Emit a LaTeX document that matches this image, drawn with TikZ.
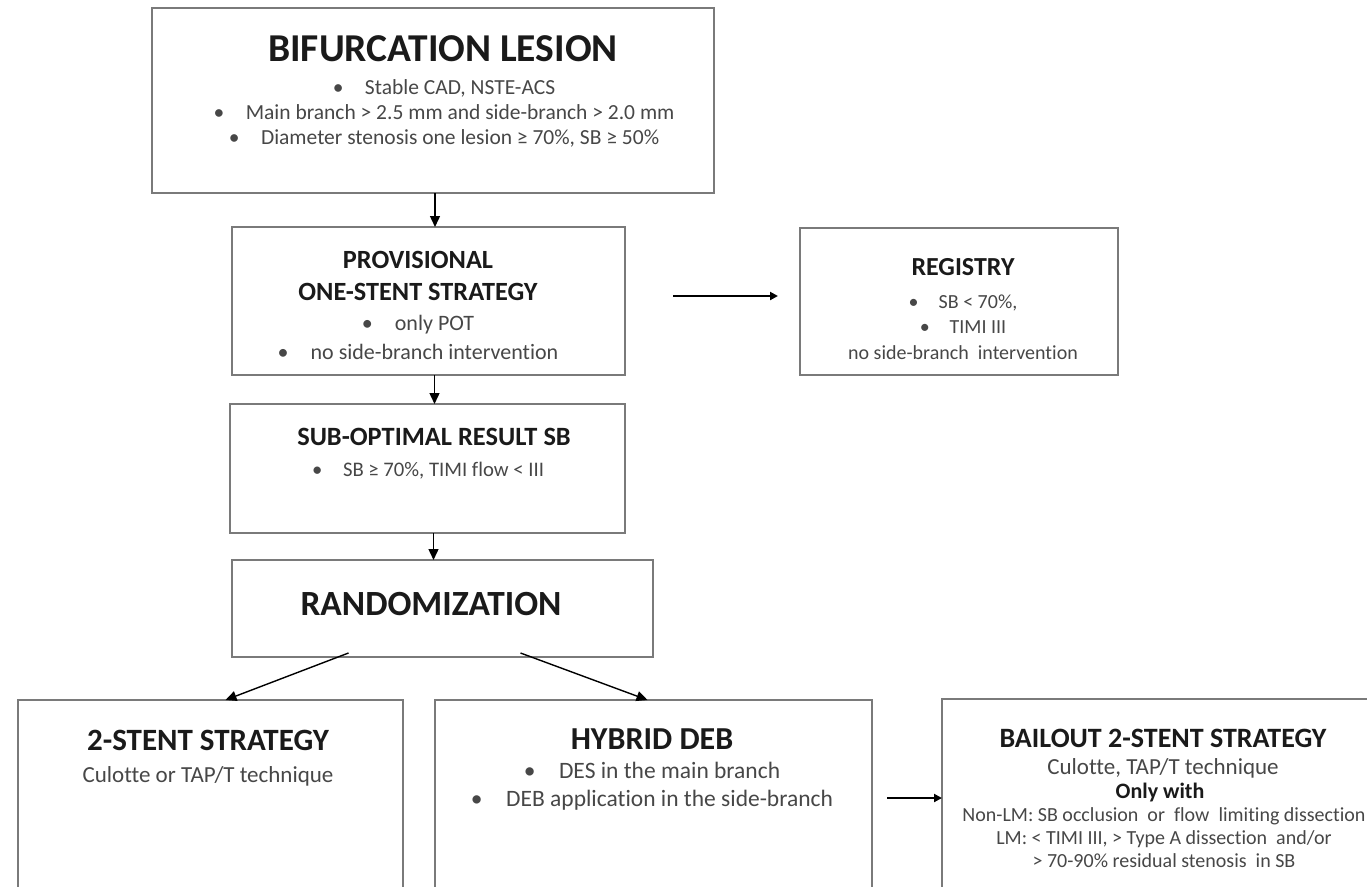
\documentclass[tikz,border=0pt]{standalone}
\usepackage{fontspec}
\setmainfont{Carlito}[Ligatures=NoCommon]
\usetikzlibrary{arrows.meta,positioning,calc}
\definecolor{framegray}{HTML}{7A7A7A}
\definecolor{textgray}{HTML}{474747}
\definecolor{titleblack}{HTML}{1A1A1A}
\tikzset{
  box/.style={draw=framegray,line width=1.8pt,rectangle,inner sep=0pt,outer sep=0pt,anchor=north west},
  ttl/.style={text=titleblack,font=\bfseries,align=center,inner sep=0pt},
  txt/.style={text=textgray,align=center,inner sep=0pt,anchor=base},
  flow/.style={-{Triangle[length=11pt,width=10pt]},line width=1.4pt},
  side/.style={-{Triangle[length=8pt,width=8pt]},line width=2.6pt},
}
\newcommand{\fs}[2]{\fontsize{#1}{#2}\selectfont}
\newcommand{\bl}{\textbullet\quad}

\begin{document}
\begin{tikzpicture}[x=1pt,y=-1pt]
\useasboundingbox (0,0) rectangle (1367,886);
\clip (0,0) rectangle (1367,886);
\fill[white] (0,0) rectangle (1367,886);

% boxes
\node[box,minimum width=562pt,minimum height=185pt] (bif) at (152,8) {};
\node[box,minimum width=393pt,minimum height=148pt] (prov) at (232,227) {};
\node[box,minimum width=318pt,minimum height=147pt] (reg) at (800,228) {};
\node[box,minimum width=395pt,minimum height=129pt] (sub) at (230,404) {};
\node[box,minimum width=421pt,minimum height=97pt] (rand) at (232,560) {};
\node[box,minimum width=385pt,minimum height=200pt] (two) at (18,700) {};
\node[box,minimum width=437pt,minimum height=200pt] (hyb) at (435,700) {};
\node[box,minimum width=440pt,minimum height=200pt] (bail) at (942,699) {};

% texts (multi-line nodes sit on the baseline of their last line)
\node[ttl,font=\bfseries\fs{39.5}{40}] (biftitle) at (443,49) {BIFURCATION LESION};
\node[txt,font=\fs{21.5}{25}] (biftext) at (444,144.5)
  {\bl Stable CAD, NSTE-ACS\\ \bl Main branch > 2.5 mm and side-branch > 2.0 mm\\
   \bl Diameter stenosis one lesion ≥ 70\%, SB ≥ 50\%};
\node[ttl,font=\bfseries\fs{26.3}{32},anchor=base] (provtitle) at (418,300)
  {PROVISIONAL\\ONE-STENT STRATEGY};
\node[txt,font=\fs{22}{29}] (provtext) at (418,359)
  {\bl only POT\\ \bl no side-branch intervention};
\node[ttl,font=\bfseries\fs{26}{26}] (regtitle) at (963,267) {REGISTRY};
\node[txt,font=\fs{20}{25.5}] (regtext) at (963,359)
  {\bl SB < 70\%,\\ \bl TIMI III\\ no side-branch\ \ intervention};
\node[ttl,font=\bfseries\fs{26.4}{28}] (subtitle) at (434,437) {SUB-OPTIMAL RESULT SB};
\node[txt,font=\fs{20.7}{24}] (subtext) at (428,476.2) {\bl SB ≥ 70\%, TIMI flow < III};
\node[ttl,font=\bfseries\fs{35.4}{38}] (randtitle) at (431,604) {RANDOMIZATION};
\node[ttl,font=\bfseries\fs{31}{32}] (twotitle) at (208,740) {2-STENT STRATEGY};
\node[txt,font=\fs{23}{28}] (twotext) at (208,782) {Culotte or TAP/T technique};
\node[ttl,font=\bfseries\fs{32}{32}] (hybtitle) at (652,739) {HYBRID DEB};
\node[txt,font=\fs{23.5}{28}] (hybtext) at (652,806)
  {\bl DES in the main branch\\ \bl DEB application in the side-branch};
\node[ttl,font=\bfseries\fs{28}{30}] (bailtitle) at (1163,738) {BAILOUT 2-STENT STRATEGY};
\node[txt,font=\fs{23}{26}] (bailtech) at (1163,774) {Culotte, TAP/T technique};
\node[txt,font=\bfseries\fs{22}{26},text=titleblack] (bailonly) at (1160,798.6) {Only with};
\node[txt,font=\fs{20}{23}] (bailtext) at (1164,867)
  {Non-LM: SB occlusion\ \ or\ \ flow\ \ limiting dissection\\
   LM: < TIMI III, > Type A dissection\ \ and/or\\ > 70-90\% residual stenosis\ \ in SB};

% arrows
\draw[flow] ([xshift=2pt]bif.south) -- ([xshift=2pt]bif.south |- prov.north);
\draw[flow] ([xshift=6pt]prov.south) -- ([xshift=6pt]prov.south |- sub.north);
\draw[flow] ([xshift=6pt]sub.south) -- ([xshift=6pt]sub.south |- rand.north);
\draw[flow] ([xshift=-94pt,yshift=4pt]rand.south) -- ([xshift=15pt]two.north);
\draw[flow] ([xshift=78pt,yshift=4pt]rand.south) -- ([xshift=-6pt]hyb.north);
\draw[side] ([xshift=48pt]prov.east |- 0,296) -- ([xshift=-22pt]reg.west |- 0,296);
\draw[side] ([xshift=15pt]hyb.east |- 0,798) -- (bail.west |- 0,798);
\end{tikzpicture}
\end{document}
